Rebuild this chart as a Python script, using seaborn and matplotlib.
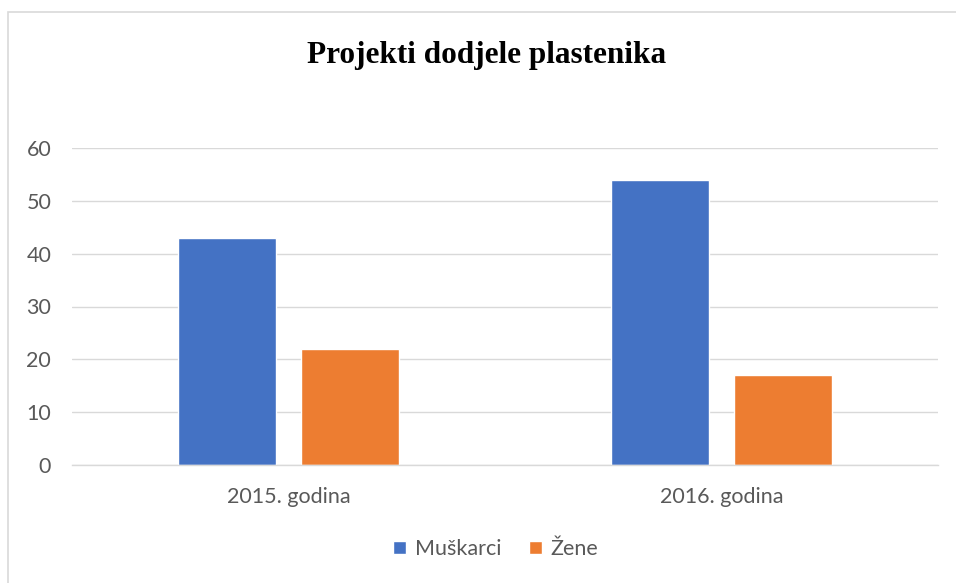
import matplotlib
matplotlib.use("Agg")
import matplotlib.pyplot as plt
import seaborn as sns
import pandas as pd
from matplotlib.patches import Rectangle

categories = ["2015. godina", "2016. godina"]
series_names = ["Muškarci", "Žene"]
muskarci = [43, 54]
zene = [22, 17]
yticks = [0, 10, 20, 30, 40, 50, 60]
colors = ["#4472C4", "#ED7D31"]

df = pd.DataFrame({
    "godina": categories * 2,
    "spol": [series_names[0]] * 2 + [series_names[1]] * 2,
    "broj": muskarci + zene,
})

sns.set_theme(style="white")
plt.rcParams["font.family"] = ["Lato", "DejaVu Sans"]

W, H = 956, 583
fig = plt.figure(figsize=(W / 100, H / 100), dpi=100)
ax = fig.add_axes([72 / W, 1 - 465 / H, (938 - 72) / W, (465 - 148) / H])

sns.barplot(data=df, x="godina", y="broj", hue="spol", palette=colors,
            width=0.568, gap=0.204, ax=ax, legend=True, saturation=1)

ax.set_xlim(-0.5, 1.5)
ax.set_ylim(0, 60)
ax.set_yticks(yticks)
ax.yaxis.grid(True, color="#d9d9d9", linewidth=1)
ax.set_axisbelow(True)
for s in ["top", "right", "left"]:
    ax.spines[s].set_visible(False)
ax.spines["bottom"].set_color("#d9d9d9")
ax.spines["bottom"].set_linewidth(1)
ax.set_xlabel("")
ax.set_ylabel("")
ax.tick_params(axis="both", length=0, colors="#595959", labelsize=15.5)
ax.tick_params(axis="y", pad=15)
ax.tick_params(axis="x", pad=16)

leg = ax.legend(loc="center", bbox_to_anchor=(496 / W, 1 - 549 / H),
                bbox_transform=fig.transFigure, ncol=2, frameon=False,
                fontsize=15.5, handlelength=0.6, handleheight=0.6,
                handletextpad=0.4, columnspacing=1.3)
for t in leg.get_texts():
    t.set_color("#595959")

fig.text(487 / W, 1 - 55 / H, "Projekti dodjele plastenika",
         ha="center", va="center", fontsize=22.5, fontweight="bold",
         family=["Liberation Serif", "DejaVu Serif"], color="black")

fig.patches.append(Rectangle((7.5 / W, -0.1), 1.2, 1 - 12.5 / H + 0.1,
                             transform=fig.transFigure, fill=False,
                             edgecolor="#d9d9d9", linewidth=1.2))

fig.savefig("out.png", dpi=100, facecolor="white")
